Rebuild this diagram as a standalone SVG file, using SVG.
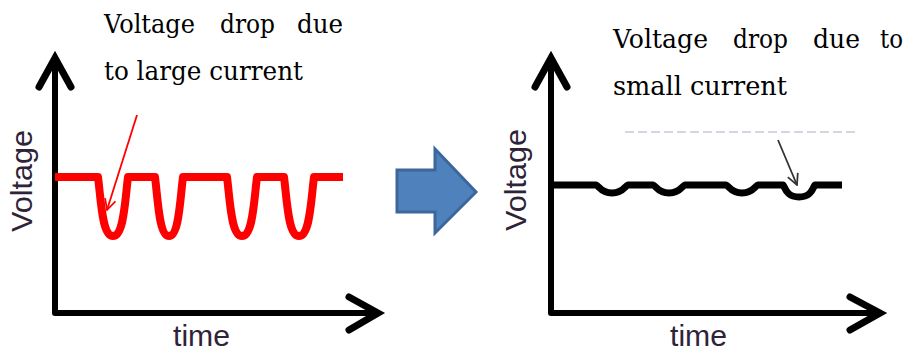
<svg xmlns="http://www.w3.org/2000/svg" width="909" height="351" viewBox="0 0 909 351">
<style>
.title{font-family:"DejaVu Serif","Liberation Serif",serif;font-size:26px;fill:#000}
.axlab{font-family:"Liberation Sans",Arial,sans-serif;font-size:29px;fill:#2e2338}
.axis{fill:none;stroke:#000;stroke-width:6;stroke-linecap:round;stroke-linejoin:round}
.chev{fill:none;stroke:#000;stroke-width:7;stroke-linecap:round;stroke-linejoin:miter}
</style>
<defs>
<marker id="redHead" viewBox="0 0 12 12" refX="11" refY="6" markerWidth="13" markerHeight="13" markerUnits="userSpaceOnUse" orient="auto">
<path d="M1,1 L11,6 L1,11" fill="none" stroke="#ff0000" stroke-width="1.6"/>
</marker>
<marker id="darkHead" viewBox="0 0 12 12" refX="11" refY="6" markerWidth="13" markerHeight="13" markerUnits="userSpaceOnUse" orient="auto">
<path d="M1,1 L11,6 L1,11" fill="none" stroke="#333" stroke-width="1.6"/>
</marker>
</defs>
<rect width="909" height="351" fill="#fff"/>

<g id="left-chart">
<g id="left-axes">
<path class="axis" d="M55,62 V313 H374"/>
<path class="chev" d="M39,87 L55,58 L71,87"/>
<path class="chev" d="M349,297 L378,313 L349,330"/>
</g>
<text class="axlab" transform="translate(32,181) rotate(-90)" text-anchor="middle" textLength="102" lengthAdjust="spacingAndGlyphs">Voltage</text>
<text class="axlab" x="173" y="346" textLength="57" lengthAdjust="spacingAndGlyphs">time</text>
<path id="red-wave" fill="none" stroke="#ff0000" stroke-width="8" stroke-linejoin="round" d="M55,177 H98 C101,200 102,236 113,236 C124,236 125,200 128,177 H155 C158,200 159,236 169,236 C179,236 180,200 183,177 H227 C230,200 231,236 242,236 C253,236 254,200 257,177 H284 C287,200 288,236 299,236 C310,236 311,200 314,177 H343"/>
<g id="left-label">
<text class="title" x="104" y="33" textLength="91" lengthAdjust="spacingAndGlyphs">Voltage</text>
<text class="title" x="220" y="33" textLength="55" lengthAdjust="spacingAndGlyphs">drop</text>
<text class="title" x="297" y="33" textLength="46" lengthAdjust="spacingAndGlyphs">due</text>
<text class="title" x="104" y="80" textLength="199" lengthAdjust="spacingAndGlyphs">to large current</text>
</g>
</g>

<g id="transition-arrow">
<path d="M397,170 H435 V149 L476,192 L435,233 V212 H397 Z" fill="#4f81bd" stroke="#3c679b" stroke-width="3" stroke-linejoin="miter"/>
</g>

<g id="right-chart">
<g id="right-axes">
<path class="axis" d="M551,62 V313 H876"/>
<path class="chev" d="M535,87 L551,58 L567,87"/>
<path class="chev" d="M850,297 L880,313 L850,330"/>
</g>
<text class="axlab" transform="translate(526,180) rotate(-90)" text-anchor="middle" textLength="102" lengthAdjust="spacingAndGlyphs">Voltage</text>
<text class="axlab" x="670" y="346" textLength="57" lengthAdjust="spacingAndGlyphs">time</text>
<path id="black-wave" fill="none" stroke="#000" stroke-width="7" stroke-linejoin="round" d="M551,185 H596 C599,186 601,193 612,193 C623,193 625,186 628,185 H653 C656,186 658,193 669,193 C680,193 682,186 685,185 H726 C729,186 731,193 742,193 C753,193 755,186 758,185 H783 C785,187 786,197 799,197 C812,197 813,187 815,185 H842"/>
<line x1="625" y1="132" x2="857" y2="132" stroke="#8a86a8" stroke-width="1.5" stroke-dasharray="9,4" opacity="0.45"/>
<g id="right-label">
<text class="title" x="613" y="48" textLength="95" lengthAdjust="spacingAndGlyphs">Voltage</text>
<text class="title" x="733" y="48" textLength="55" lengthAdjust="spacingAndGlyphs">drop</text>
<text class="title" x="813" y="48" textLength="47" lengthAdjust="spacingAndGlyphs">due</text>
<text class="title" x="880" y="48" textLength="23" lengthAdjust="spacingAndGlyphs">to</text>
<text class="title" x="613" y="95" textLength="174" lengthAdjust="spacingAndGlyphs">small current</text>
</g>
</g>

<g id="connectors">
<line x1="137" y1="115" x2="107" y2="210" stroke="#ff0000" stroke-width="1.8" marker-end="url(#redHead)"/>
<line x1="778" y1="140" x2="797" y2="185" stroke="#333" stroke-width="1.8" marker-end="url(#darkHead)"/>
</g>
</svg>
